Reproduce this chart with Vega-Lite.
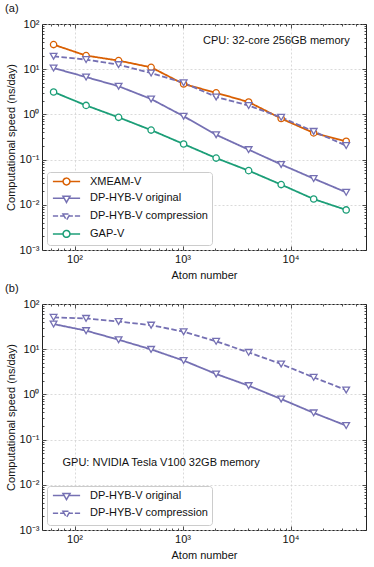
{
  "$schema": "https://vega.github.io/schema/vega-lite/v6.json",
  "padding": {"left": 4, "top": 2, "right": 5, "bottom": 0},
  "spacing": 1,
  "config": {
    "font": "Liberation Sans",
    "view": {"stroke": "#222", "strokeWidth": 1},
    "axis": {"domain": false, "labelFontSize": 11, "titleFontSize": 11, "titleFontWeight": "normal", "tickColor": "#222", "tickWidth": 0.8, "labelColor": "#111", "titleColor": "#111", "gridColor": "#d0d0d0", "gridDash": [2, 2], "gridWidth": 0.8, "labelFlush": false, "labelOverlap": false},
    "title": {"fontSize": 11, "fontWeight": "normal", "anchor": "start", "frame": "bounds", "offset": 4, "color": "#111"},
    "legend": {"title": null, "orient": "bottom-left", "offset": 5, "padding": 4, "symbolSize": 64, "symbolOffset": 10, "labelOffset": 18, "rowPadding": 3.8, "labelFontSize": 11, "labelColor": "#111", "strokeColor": "#ccc", "fillColor": "white", "cornerRadius": 3, "symbolStrokeWidth": 1.5, "labelLimit": 300}
  },
  "datasets": {
    "cpu": [
      {"series": "XMEAM-V", "atoms": 64, "speed": 35},
      {"series": "XMEAM-V", "atoms": 128, "speed": 20},
      {"series": "XMEAM-V", "atoms": 256, "speed": 15.5},
      {"series": "XMEAM-V", "atoms": 512, "speed": 11},
      {"series": "XMEAM-V", "atoms": 1024, "speed": 4.7},
      {"series": "XMEAM-V", "atoms": 2048, "speed": 3.0},
      {"series": "XMEAM-V", "atoms": 4096, "speed": 1.88},
      {"series": "XMEAM-V", "atoms": 8192, "speed": 0.81},
      {"series": "XMEAM-V", "atoms": 16384, "speed": 0.39},
      {"series": "XMEAM-V", "atoms": 32768, "speed": 0.254},
      {"series": "DP-HYB-V original", "atoms": 64, "speed": 10.6},
      {"series": "DP-HYB-V original", "atoms": 128, "speed": 6.7},
      {"series": "DP-HYB-V original", "atoms": 256, "speed": 4.2},
      {"series": "DP-HYB-V original", "atoms": 512, "speed": 2.19},
      {"series": "DP-HYB-V original", "atoms": 1024, "speed": 0.91},
      {"series": "DP-HYB-V original", "atoms": 2048, "speed": 0.354},
      {"series": "DP-HYB-V original", "atoms": 4096, "speed": 0.166},
      {"series": "DP-HYB-V original", "atoms": 8192, "speed": 0.078},
      {"series": "DP-HYB-V original", "atoms": 16384, "speed": 0.038},
      {"series": "DP-HYB-V original", "atoms": 32768, "speed": 0.0189},
      {"series": "DP-HYB-V compression", "atoms": 64, "speed": 19.3},
      {"series": "DP-HYB-V compression", "atoms": 128, "speed": 16.3},
      {"series": "DP-HYB-V compression", "atoms": 256, "speed": 12.6},
      {"series": "DP-HYB-V compression", "atoms": 512, "speed": 8.2},
      {"series": "DP-HYB-V compression", "atoms": 1024, "speed": 5.0},
      {"series": "DP-HYB-V compression", "atoms": 2048, "speed": 2.43},
      {"series": "DP-HYB-V compression", "atoms": 4096, "speed": 1.57},
      {"series": "DP-HYB-V compression", "atoms": 8192, "speed": 0.86},
      {"series": "DP-HYB-V compression", "atoms": 16384, "speed": 0.42},
      {"series": "DP-HYB-V compression", "atoms": 32768, "speed": 0.204},
      {"series": "GAP-V", "atoms": 64, "speed": 3.13},
      {"series": "GAP-V", "atoms": 128, "speed": 1.58},
      {"series": "GAP-V", "atoms": 256, "speed": 0.86},
      {"series": "GAP-V", "atoms": 512, "speed": 0.45},
      {"series": "GAP-V", "atoms": 1024, "speed": 0.221},
      {"series": "GAP-V", "atoms": 2048, "speed": 0.108},
      {"series": "GAP-V", "atoms": 4096, "speed": 0.057},
      {"series": "GAP-V", "atoms": 8192, "speed": 0.028},
      {"series": "GAP-V", "atoms": 16384, "speed": 0.0134},
      {"series": "GAP-V", "atoms": 32768, "speed": 0.0077}
    ],
    "gpu": [
      {"series": "DP-HYB-V original", "atoms": 64, "speed": 36},
      {"series": "DP-HYB-V original", "atoms": 128, "speed": 25.7},
      {"series": "DP-HYB-V original", "atoms": 256, "speed": 16.2},
      {"series": "DP-HYB-V original", "atoms": 512, "speed": 9.9},
      {"series": "DP-HYB-V original", "atoms": 1024, "speed": 5.6},
      {"series": "DP-HYB-V original", "atoms": 2048, "speed": 2.83},
      {"series": "DP-HYB-V original", "atoms": 4096, "speed": 1.56},
      {"series": "DP-HYB-V original", "atoms": 8192, "speed": 0.79},
      {"series": "DP-HYB-V original", "atoms": 16384, "speed": 0.39},
      {"series": "DP-HYB-V original", "atoms": 32768, "speed": 0.204},
      {"series": "DP-HYB-V compression", "atoms": 64, "speed": 50.6},
      {"series": "DP-HYB-V compression", "atoms": 128, "speed": 48},
      {"series": "DP-HYB-V compression", "atoms": 256, "speed": 41},
      {"series": "DP-HYB-V compression", "atoms": 512, "speed": 34},
      {"series": "DP-HYB-V compression", "atoms": 1024, "speed": 24.4},
      {"series": "DP-HYB-V compression", "atoms": 2048, "speed": 14.9},
      {"series": "DP-HYB-V compression", "atoms": 4096, "speed": 8.5},
      {"series": "DP-HYB-V compression", "atoms": 8192, "speed": 4.7},
      {"series": "DP-HYB-V compression", "atoms": 16384, "speed": 2.38},
      {"series": "DP-HYB-V compression", "atoms": 32768, "speed": 1.25}
    ]
  },
  "resolve": {"scale": {"x": "independent", "y": "independent", "color": "independent", "strokeDash": "independent"}, "legend": {"color": "independent"}},
  "vconcat": [
    {
      "width": 324, "height": 226,
      "title": {"text": "(a)"},
      "data": {"name": "cpu"},
      "resolve": {"axis": {"x": "independent", "y": "independent"}},
      "layer": [
        {
          "mark": {"type": "line", "strokeWidth": 1.8},
          "encoding": {
            "x": {"field": "atoms", "type": "quantitative", "scale": {"type": "log", "domain": [50, 50000], "nice": false},
                  "axis": {"orient": "bottom", "values": [100, 1000, 10000], "labelExpr": "'10' + ['⁰','¹','²','³','⁴','⁵'][round(log(datum.value)/LN10)]", "title": "Atom number", "grid": true, "tickSize": -4, "labelPadding": 7, "titlePadding": 5}},
            "y": {"field": "speed", "type": "quantitative", "scale": {"type": "log", "domain": [0.001, 100], "nice": false},
                  "axis": {"orient": "left", "values": [0.001, 0.01, 0.1, 1, 10, 100], "labelExpr": "'10' + ['⁻³','⁻²','⁻¹','⁰','¹','²'][round(log(datum.value)/LN10)+3]", "title": "Computational speed (ns/day)", "grid": true, "tickSize": -4, "labelPadding": 7, "titlePadding": 3}},
            "color": {"field": "series", "type": "nominal",
                      "scale": {"domain": ["XMEAM-V", "DP-HYB-V original", "DP-HYB-V compression", "GAP-V"], "range": ["#d95f02", "#7570b3", "#7570b3", "#1b9e77"]},
                      "legend": {"symbolType": "M-3.4,0H-0.85M0.85,0A0.85,0.85,0,1,1,-0.85,0A0.85,0.85,0,1,1,0.85,0M0.85,0H3.4", "encode": {"symbols": {"update": {"shape": {"signal": "datum.value === 'DP-HYB-V original' ? 'M-3.4,0H-0.58M0.58,0H3.4M-0.88,-0.5H0.88L0,1.02Z' : datum.value === 'DP-HYB-V compression' ? 'M-3.4,0H-2.1M-1.6,0H-0.58M0.58,0H1.6M2.1,0H3.4M-0.88,-0.5H0.88L0,1.02Z' : 'M-3.4,0H-0.85M0.85,0A0.85,0.85,0,1,1,-0.85,0A0.85,0.85,0,1,1,0.85,0M0.85,0H3.4'"}, "fill": {"value": "white"}, "opacity": {"value": 1}, "strokeWidth": {"value": 1.5}, "strokeDash": {"value": [1, 0]}}}}}},
            "strokeDash": {"field": "series", "type": "nominal", "scale": {"domain": ["XMEAM-V", "DP-HYB-V original", "DP-HYB-V compression", "GAP-V"], "range": [[1, 0], [1, 0], [5.5, 2.4], [1, 0]]}, "legend": null}
          }
        },
        {
          "transform": [{"filter": {"field": "series", "oneOf": ["XMEAM-V", "GAP-V"]}}],
          "mark": {"type": "point", "shape": "circle", "filled": false, "fill": "white", "strokeWidth": 1.3, "size": 40, "opacity": 1},
          "encoding": {
            "x": {"field": "atoms", "type": "quantitative", "axis": {"orient": "top", "values": [100, 1000, 10000], "labels": false, "tickSize": -4, "grid": false, "title": null}},
            "y": {"field": "speed", "type": "quantitative", "axis": {"orient": "right", "values": [0.001, 0.01, 0.1, 1, 10, 100], "labels": false, "tickSize": -4, "grid": false, "title": null}},
            "color": {"field": "series", "type": "nominal"}
          }
        },
        {
          "transform": [{"filter": {"field": "series", "oneOf": ["DP-HYB-V original", "DP-HYB-V compression"]}}],
          "mark": {"type": "point", "shape": "triangle-down", "filled": false, "fill": "white", "strokeWidth": 1.3, "size": 45, "opacity": 1},
          "encoding": {
            "x": {"field": "atoms", "type": "quantitative", "axis": null},
            "y": {"field": "speed", "type": "quantitative", "axis": null},
            "color": {"field": "series", "type": "nominal"}
          }
        },
        {
          "mark": {"type": "point", "opacity": 0},
          "encoding": {
            "x": {"field": "atoms", "type": "quantitative", "axis": {"orient": "bottom", "values": [60, 70, 80, 90, 200, 300, 400, 500, 600, 700, 800, 900, 2000, 3000, 4000, 5000, 6000, 7000, 8000, 9000, 20000, 30000, 40000], "labels": false, "tickSize": -2, "grid": false, "title": null}},
            "y": {"field": "speed", "type": "quantitative", "axis": {"orient": "left", "values": [0.002, 0.003, 0.004, 0.005, 0.006, 0.007, 0.008, 0.009, 0.02, 0.03, 0.04, 0.05, 0.06, 0.07, 0.08, 0.09, 0.2, 0.3, 0.4, 0.5, 0.6, 0.7, 0.8, 0.9, 2, 3, 4, 5, 6, 7, 8, 9, 20, 30, 40, 50, 60, 70, 80, 90], "labels": false, "tickSize": -2, "grid": false, "title": null}}
          }
        },
        {
          "mark": {"type": "point", "opacity": 0},
          "encoding": {
            "x": {"field": "atoms", "type": "quantitative", "axis": {"orient": "top", "values": [60, 70, 80, 90, 200, 300, 400, 500, 600, 700, 800, 900, 2000, 3000, 4000, 5000, 6000, 7000, 8000, 9000, 20000, 30000, 40000], "labels": false, "tickSize": -2, "grid": false, "title": null}},
            "y": {"field": "speed", "type": "quantitative", "axis": {"orient": "right", "values": [0.002, 0.003, 0.004, 0.005, 0.006, 0.007, 0.008, 0.009, 0.02, 0.03, 0.04, 0.05, 0.06, 0.07, 0.08, 0.09, 0.2, 0.3, 0.4, 0.5, 0.6, 0.7, 0.8, 0.9, 2, 3, 4, 5, 6, 7, 8, 9, 20, 30, 40, 50, 60, 70, 80, 90], "labels": false, "tickSize": -2, "grid": false, "title": null}}
          }
        },
        {
          "data": {"values": [{"note": "CPU: 32-core 256GB memory", "nx": 35300, "ny": 41.4}]},
          "mark": {"type": "text", "align": "right", "baseline": "middle", "fontSize": 11, "color": "#111"},
          "encoding": {
            "x": {"field": "nx", "type": "quantitative", "axis": null},
            "y": {"field": "ny", "type": "quantitative", "axis": null},
            "text": {"field": "note"}
          }
        }
      ]
    },
    {
      "width": 324, "height": 226,
      "title": {"text": "(b)"},
      "data": {"name": "gpu"},
      "resolve": {"axis": {"x": "independent", "y": "independent"}},
      "layer": [
        {
          "mark": {"type": "line", "strokeWidth": 1.8},
          "encoding": {
            "x": {"field": "atoms", "type": "quantitative", "scale": {"type": "log", "domain": [50, 50000], "nice": false},
                  "axis": {"orient": "bottom", "values": [100, 1000, 10000], "labelExpr": "'10' + ['⁰','¹','²','³','⁴','⁵'][round(log(datum.value)/LN10)]", "title": "Atom number", "grid": true, "tickSize": -4, "labelPadding": 7, "titlePadding": 5}},
            "y": {"field": "speed", "type": "quantitative", "scale": {"type": "log", "domain": [0.001, 100], "nice": false},
                  "axis": {"orient": "left", "values": [0.001, 0.01, 0.1, 1, 10, 100], "labelExpr": "'10' + ['⁻³','⁻²','⁻¹','⁰','¹','²'][round(log(datum.value)/LN10)+3]", "title": "Computational speed (ns/day)", "grid": true, "tickSize": -4, "labelPadding": 7, "titlePadding": 3}},
            "color": {"field": "series", "type": "nominal",
                      "scale": {"domain": ["DP-HYB-V original", "DP-HYB-V compression"], "range": ["#7570b3", "#7570b3"]},
                      "legend": {"symbolType": "M-3.4,0H-0.58M0.58,0H3.4M-0.88,-0.5H0.88L0,1.02Z", "encode": {"symbols": {"update": {"shape": {"signal": "datum.value === 'DP-HYB-V original' ? 'M-3.4,0H-0.58M0.58,0H3.4M-0.88,-0.5H0.88L0,1.02Z' : 'M-3.4,0H-2.1M-1.6,0H-0.58M0.58,0H1.6M2.1,0H3.4M-0.88,-0.5H0.88L0,1.02Z'"}, "fill": {"value": "white"}, "opacity": {"value": 1}, "strokeWidth": {"value": 1.5}, "strokeDash": {"value": [1, 0]}}}}}},
            "strokeDash": {"field": "series", "type": "nominal", "scale": {"domain": ["DP-HYB-V original", "DP-HYB-V compression"], "range": [[1, 0], [5.5, 2.4]]}, "legend": null}
          }
        },
        {
          "mark": {"type": "point", "shape": "triangle-down", "filled": false, "fill": "white", "strokeWidth": 1.3, "size": 45, "opacity": 1},
          "encoding": {
            "x": {"field": "atoms", "type": "quantitative", "axis": {"orient": "top", "values": [100, 1000, 10000], "labels": false, "tickSize": -4, "grid": false, "title": null}},
            "y": {"field": "speed", "type": "quantitative", "axis": {"orient": "right", "values": [0.001, 0.01, 0.1, 1, 10, 100], "labels": false, "tickSize": -4, "grid": false, "title": null}},
            "color": {"field": "series", "type": "nominal"}
          }
        },
        {
          "mark": {"type": "point", "opacity": 0},
          "encoding": {
            "x": {"field": "atoms", "type": "quantitative", "axis": {"orient": "bottom", "values": [60, 70, 80, 90, 200, 300, 400, 500, 600, 700, 800, 900, 2000, 3000, 4000, 5000, 6000, 7000, 8000, 9000, 20000, 30000, 40000], "labels": false, "tickSize": -2, "grid": false, "title": null}},
            "y": {"field": "speed", "type": "quantitative", "axis": {"orient": "left", "values": [0.002, 0.003, 0.004, 0.005, 0.006, 0.007, 0.008, 0.009, 0.02, 0.03, 0.04, 0.05, 0.06, 0.07, 0.08, 0.09, 0.2, 0.3, 0.4, 0.5, 0.6, 0.7, 0.8, 0.9, 2, 3, 4, 5, 6, 7, 8, 9, 20, 30, 40, 50, 60, 70, 80, 90], "labels": false, "tickSize": -2, "grid": false, "title": null}}
          }
        },
        {
          "mark": {"type": "point", "opacity": 0},
          "encoding": {
            "x": {"field": "atoms", "type": "quantitative", "axis": {"orient": "top", "values": [60, 70, 80, 90, 200, 300, 400, 500, 600, 700, 800, 900, 2000, 3000, 4000, 5000, 6000, 7000, 8000, 9000, 20000, 30000, 40000], "labels": false, "tickSize": -2, "grid": false, "title": null}},
            "y": {"field": "speed", "type": "quantitative", "axis": {"orient": "right", "values": [0.002, 0.003, 0.004, 0.005, 0.006, 0.007, 0.008, 0.009, 0.02, 0.03, 0.04, 0.05, 0.06, 0.07, 0.08, 0.09, 0.2, 0.3, 0.4, 0.5, 0.6, 0.7, 0.8, 0.9, 2, 3, 4, 5, 6, 7, 8, 9, 20, 30, 40, 50, 60, 70, 80, 90], "labels": false, "tickSize": -2, "grid": false, "title": null}}
          }
        },
        {
          "data": {"values": [{"note": "GPU: NVIDIA Tesla V100 32GB memory", "nx": 77.4, "ny": 0.0308}]},
          "mark": {"type": "text", "align": "left", "baseline": "middle", "fontSize": 11, "color": "#111"},
          "encoding": {
            "x": {"field": "nx", "type": "quantitative", "axis": null},
            "y": {"field": "ny", "type": "quantitative", "axis": null},
            "text": {"field": "note"}
          }
        }
      ]
    }
  ]
}
